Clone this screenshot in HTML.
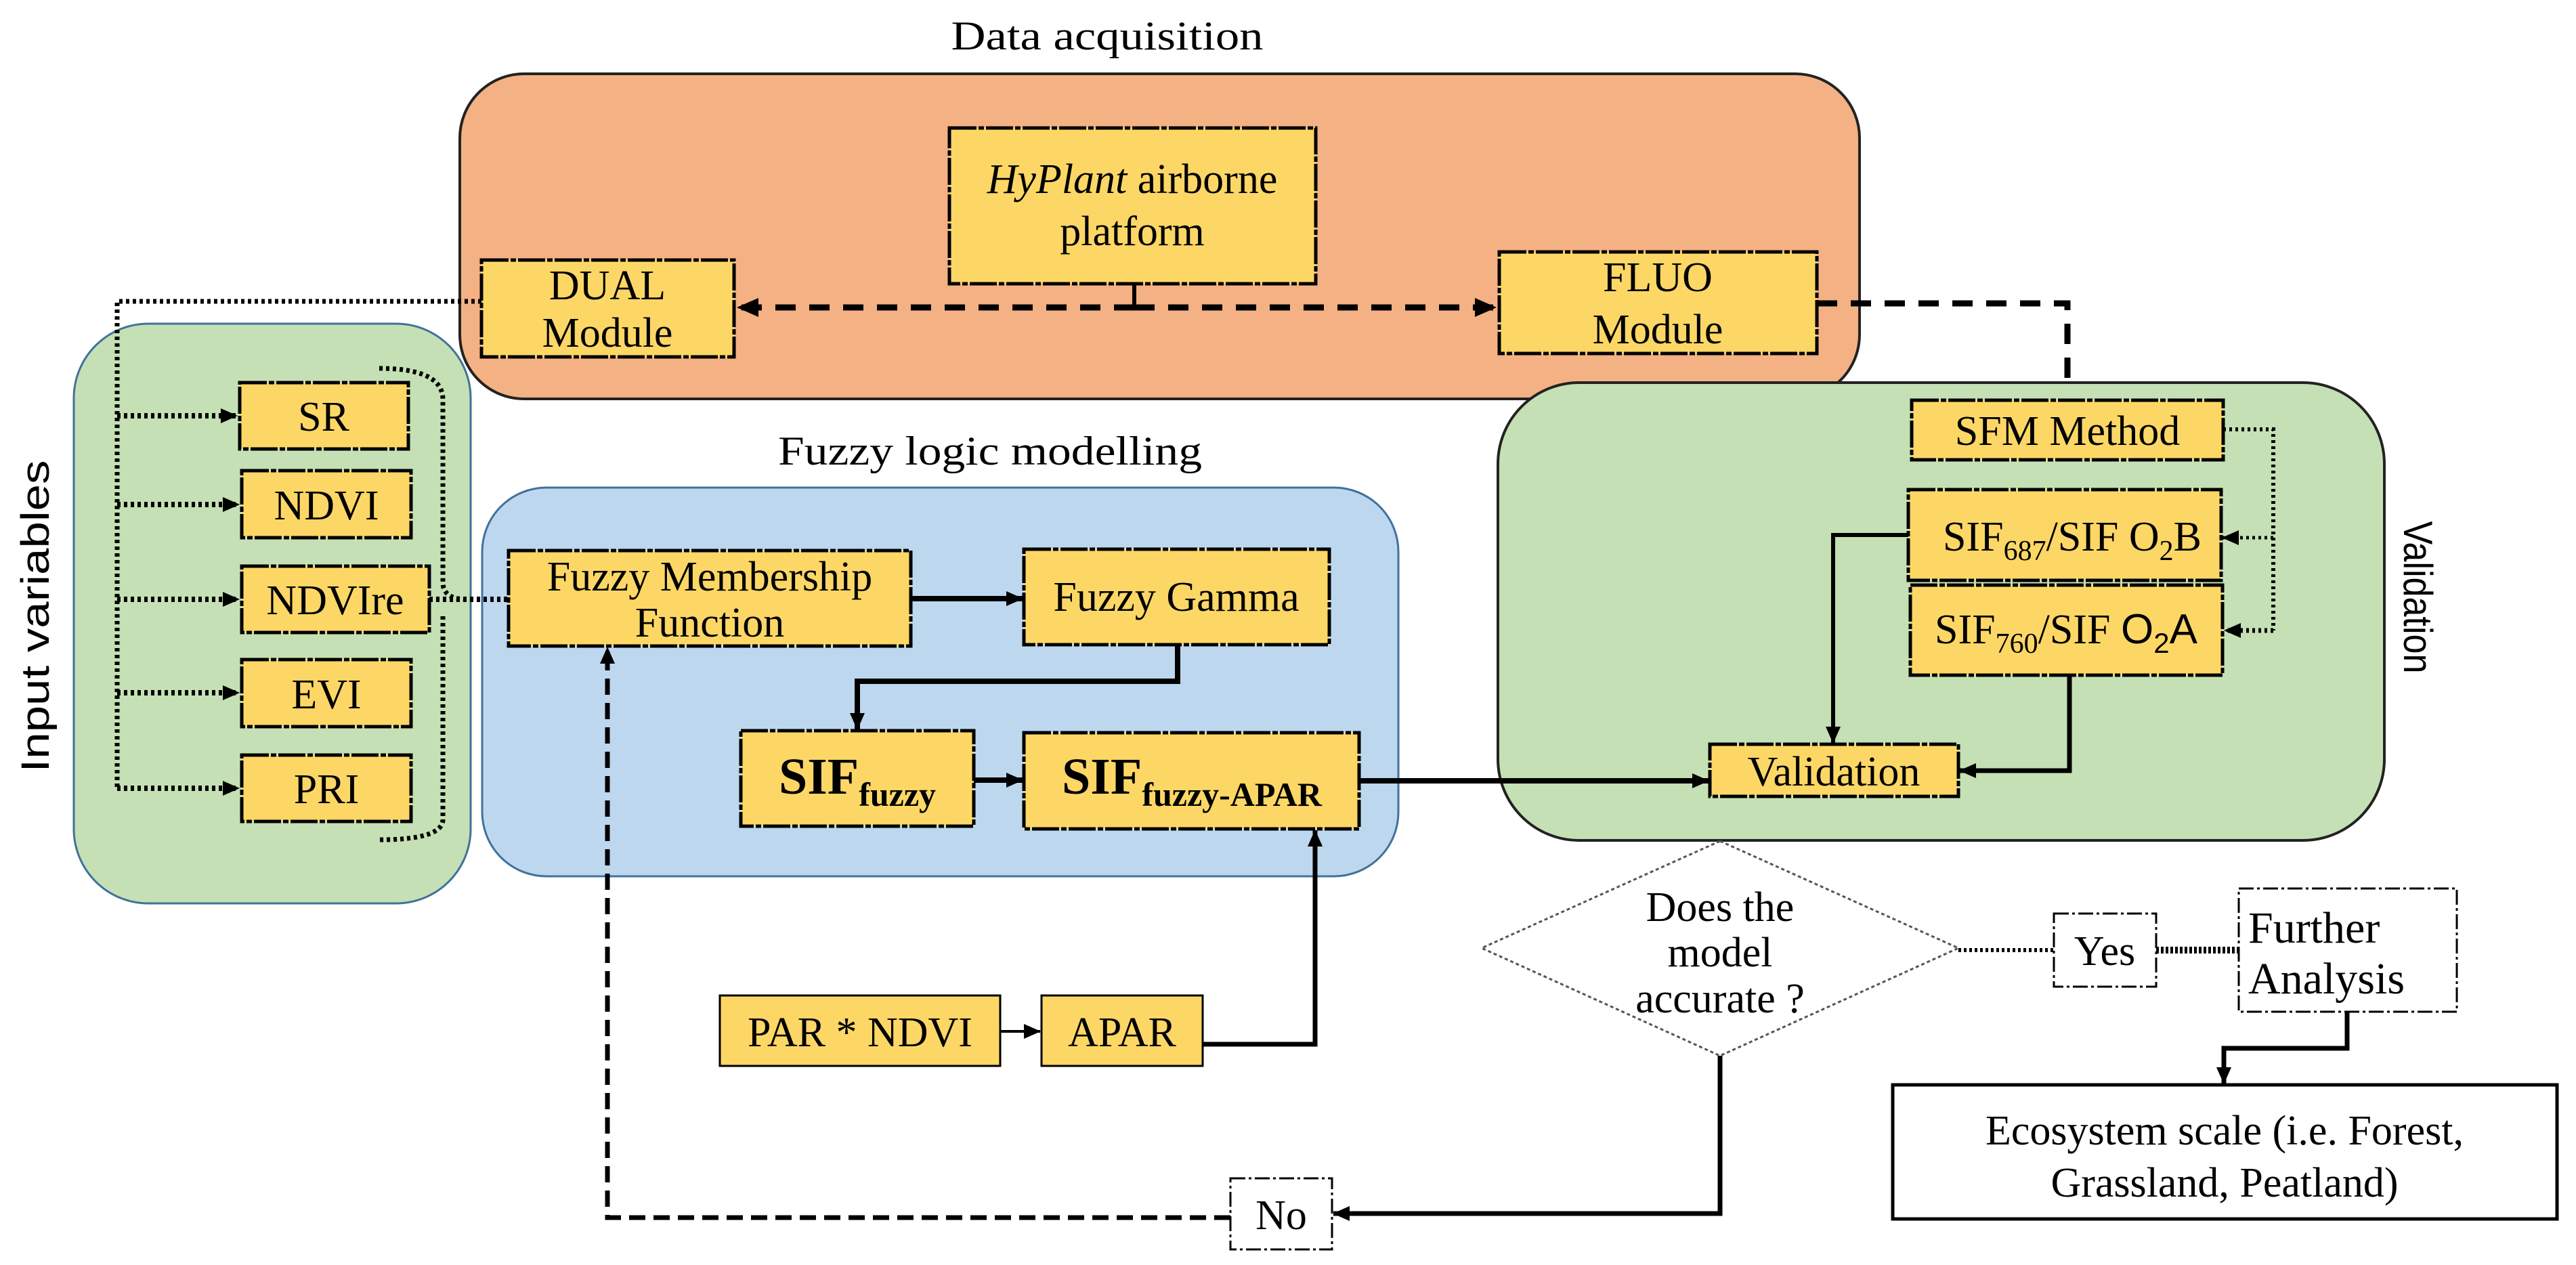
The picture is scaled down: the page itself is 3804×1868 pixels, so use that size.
<!DOCTYPE html>
<html><head><meta charset="utf-8"><style>html,body{margin:0;padding:0;background:#fff}svg{display:block}</style></head>
<body>
<svg width="3804" height="1868" viewBox="0 0 3804 1868" xmlns="http://www.w3.org/2000/svg" font-family="'Liberation Serif', serif">
<defs>
<marker id="a" markerUnits="userSpaceOnUse" markerWidth="34" markerHeight="34" refX="30" refY="17" orient="auto"><path d="M0,3 L32,17 L0,31 Z" fill="#000"/></marker>
<marker id="s" markerUnits="userSpaceOnUse" markerWidth="26" markerHeight="26" refX="24" refY="13" orient="auto"><path d="M0,2 L25,13 L0,24 Z" fill="#000"/></marker>
</defs>
<rect x="679" y="109" width="2067" height="480" rx="95" fill="#F4B183" stroke="#222" stroke-width="4"/>
<rect x="109" y="478" width="586" height="856" rx="110" fill="#C5E0B4" stroke="#41719C" stroke-width="3"/>
<rect x="712" y="720" width="1353" height="574" rx="95" fill="#BDD7EE" stroke="#41719C" stroke-width="3"/>
<rect x="2212" y="565" width="1309" height="676" rx="120" fill="#C5E0B4" stroke="#222" stroke-width="4"/>

<g font-size="60" text-anchor="middle">
<text x="1635" y="73" textLength="461" lengthAdjust="spacingAndGlyphs">Data acquisition</text>
<text x="1462" y="686" textLength="626" lengthAdjust="spacingAndGlyphs">Fuzzy logic modelling</text>
</g>
<text transform="translate(72,910) rotate(-90)" font-family="'Liberation Sans', sans-serif" font-size="58" text-anchor="middle" textLength="461" lengthAdjust="spacingAndGlyphs">Input variables</text>
<text transform="translate(3550,882) rotate(90)" font-family="'Liberation Sans', sans-serif" font-size="60" text-anchor="middle" textLength="225" lengthAdjust="spacingAndGlyphs">Validation</text>

<g fill="#FDD766" stroke="#000" stroke-width="5" stroke-dasharray="40 3 8 3">
<rect x="1402" y="189" width="541" height="230"/>
<rect x="711" y="384" width="373" height="143"/>
<rect x="2214" y="372" width="469" height="150"/>
<rect x="2823" y="591" width="460" height="88"/>
<rect x="2818" y="723" width="462" height="134"/>
<rect x="2821" y="864" width="461" height="133"/>
<rect x="354" y="565" width="249" height="98"/>
<rect x="357" y="695" width="250" height="99"/>
<rect x="357" y="836" width="277" height="98"/>
<rect x="357" y="974" width="250" height="99"/>
<rect x="357" y="1115" width="250" height="98"/>
<rect x="751" y="813" width="594" height="141"/>
<rect x="1512" y="811" width="451" height="141"/>
<rect x="1094" y="1079" width="344" height="141"/>
<rect x="1512" y="1082" width="495" height="142"/>
<rect x="2525" y="1099" width="367" height="77"/>
</g>
<g fill="#FDD766" stroke="#000" stroke-width="3">
<rect x="1063" y="1470" width="414" height="104"/>
<rect x="1538" y="1470" width="238" height="104"/>
</g>
<g fill="#fff" stroke="#000" stroke-width="3" stroke-dasharray="22 5 4 5">
<rect x="3033" y="1349" width="151" height="108"/>
<rect x="3306" y="1312" width="322" height="182"/>
<rect x="1817" y="1740" width="150" height="105"/>
</g>
<rect x="2795" y="1602" width="981" height="198" fill="#fff" stroke="#000" stroke-width="5"/>
<polygon points="2540,1242 2892,1400 2540,1559 2188,1400" fill="#fff" stroke="#555" stroke-width="3" stroke-dasharray="5 4"/>

<g font-size="62" text-anchor="middle">
<text x="1672" y="285"><tspan font-style="italic">HyPlant</tspan> airborne</text>
<text x="1672" y="362">platform</text>
<text x="897" y="442">DUAL</text>
<text x="897" y="512">Module</text>
<text x="2448" y="430">FLUO</text>
<text x="2448" y="507">Module</text>
<text x="3053" y="657">SFM Method</text>
<text x="3060" y="813">SIF<tspan font-size="42" dy="14">687</tspan><tspan dy="-14">/SIF O</tspan><tspan font-size="42" dy="14">2</tspan><tspan dy="-14">B</tspan></text>
<text x="3051" y="950">SIF<tspan font-size="42" dy="14">760</tspan><tspan dy="-14">/SIF </tspan><tspan font-family="'Liberation Sans', sans-serif">O</tspan><tspan font-size="42" dy="14" font-family="'Liberation Sans', sans-serif">2</tspan><tspan dy="-14" font-family="'Liberation Sans', sans-serif">A</tspan></text>
<text x="478" y="636">SR</text>
<text x="482" y="767">NDVI</text>
<text x="495" y="907">NDVIre</text>
<text x="482" y="1046">EVI</text>
<text x="482" y="1186">PRI</text>
<text x="1048" y="872">Fuzzy Membership</text>
<text x="1048" y="940">Function</text>
<text x="1737" y="902">Fuzzy Gamma</text>
<text x="2708" y="1160">Validation</text>
<text x="1270" y="1545">PAR * NDVI</text>
<text x="1657" y="1545">APAR</text>
<text x="3108" y="1425">Yes</text>
<text x="1892" y="1815">No</text>
<text x="2540" y="1360">Does the</text>
<text x="2540" y="1427">model</text>
<text x="2540" y="1495">accurate ?</text>
<text x="3285" y="1690">Ecosystem scale (i.e. Forest,</text>
<text x="3285" y="1767">Grassland, Peatland)</text>
</g>
<g font-size="66" text-anchor="start">
<text x="3320" y="1392">Further</text>
<text x="3320" y="1467">Analysis</text>
</g>
<g font-weight="bold" text-anchor="middle">
<text x="1266" y="1172" font-size="76">SIF<tspan font-size="50" dy="18">fuzzy</tspan></text>
<text x="1760" y="1172" font-size="76">SIF<tspan font-size="50" dy="18">fuzzy-APAR</tspan></text>
</g>

<g fill="none" stroke="#000">
<path d="M1675,419 V454" stroke-width="6"/>
<path d="M1675,454 H1090" stroke-width="9" stroke-dasharray="30 20" marker-end="url(#a)"/>
<path d="M1675,454 H2208" stroke-width="9" stroke-dasharray="30 20" marker-end="url(#a)"/>
<path d="M2683,448 H3053 V565" stroke-width="9" stroke-dasharray="30 20"/>
<path d="M711,445 H173 V1164" stroke-width="7" stroke-dasharray="5 5"/>
<g stroke-width="8" stroke-dasharray="5 5">
<path d="M173,614 H350" marker-end="url(#s)"/>
<path d="M173,745 H353" marker-end="url(#s)"/>
<path d="M173,885 H353" marker-end="url(#s)"/>
<path d="M173,1023 H353" marker-end="url(#s)"/>
<path d="M173,1164 H353" marker-end="url(#s)"/>
</g>
<path d="M560,544 Q654,544 654,590 V860 Q654,885 690,885 M654,910 V1210 Q654,1240 560,1240" stroke-width="7" stroke-dasharray="5 5"/>
<path d="M634,885 H751" stroke-width="8" stroke-dasharray="5 5"/>
<path d="M3283,634 H3357 V931" stroke-width="6" stroke-dasharray="4 5"/>
<path d="M3357,794 H3282" stroke-width="5" stroke-dasharray="4 5" marker-end="url(#s)"/>
<path d="M3357,931 H3285" stroke-width="7" stroke-dasharray="4 5" marker-end="url(#s)"/>
<path d="M1345,884 H1510" stroke-width="8" marker-end="url(#s)"/>
<path d="M1739,952 V1006 H1266 V1077" stroke-width="8" marker-end="url(#s)"/>
<path d="M1438,1152 H1510" stroke-width="8" marker-end="url(#s)"/>
<path d="M2007,1153 H2523" stroke-width="8" marker-end="url(#s)"/>
<path d="M2818,790 H2707 V1097" stroke-width="6" marker-end="url(#s)"/>
<path d="M3056,997 V1138 H2894" stroke-width="7" marker-end="url(#s)"/>
<path d="M1477,1523 H1536" stroke-width="4" marker-end="url(#s)"/>
<path d="M1776,1542 H1942 V1226" stroke-width="7" marker-end="url(#s)"/>
<path d="M2892,1403 H3033" stroke-width="6" stroke-dasharray="4 4"/>
<path d="M3184,1403 H3306" stroke-width="10" stroke-dasharray="4 3"/>
<path d="M3466,1494 V1548 H3284 V1600" stroke-width="7" marker-end="url(#s)"/>
<path d="M2540,1559 V1792 H1969" stroke-width="7" marker-end="url(#s)"/>
<path d="M1817,1798 H897 V956" stroke-width="7" stroke-dasharray="24 12" marker-end="url(#s)"/>
</g>
</svg>
</body></html>
